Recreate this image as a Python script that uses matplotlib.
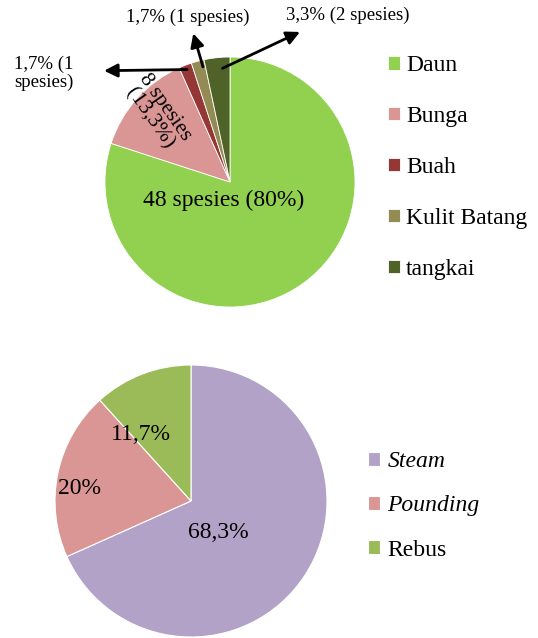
import matplotlib.pyplot as plt

plt.rcParams['font.family'] = ['Liberation Serif', 'DejaVu Serif']

# Top pie: plant parts used
parts = ['Daun', 'Bunga', 'Buah', 'Kulit Batang', 'tangkai']
species = [48, 8, 1, 1, 2]
part_colors = ['#92D050', '#D99694', '#953735', '#948A54', '#4F6228']

# Bottom pie: processing method
methods = ['Steam', 'Pounding', 'Rebus']
method_pct = [68.3, 20, 11.7]
method_colors = ['#B3A2C7', '#D99694', '#9BBB59']
method_labels = ['68,3%', '20%', '11,7%']

W, H = 538, 638
fig = plt.figure(figsize=(W / 100, H / 100), dpi=100)
fig.patch.set_facecolor('white')


def pie_axes(cx, cy, r):
    return fig.add_axes([(cx - r) / W, (H - cy - r) / H, 2 * r / W, 2 * r / H])


# ---- top pie ----
ax1 = pie_axes(230, 182, 125)
w1, _ = ax1.pie(species, colors=part_colors, startangle=90, counterclock=False,
                wedgeprops=dict(edgecolor='white', linewidth=0.6))
ax1.set_xlim(-1, 1)
ax1.set_ylim(-1, 1)

ax1.text(-0.05, -0.15, '48 spesies (80%)', ha='center', va='center', fontsize=17)
ax1.text(-0.58, 0.55, '8 spesies\n(13,3%)', ha='center', va='center', fontsize=15.5,
         rotation=-55, linespacing=1.0)

arrow = dict(arrowstyle='-|>', color='black', lw=2, mutation_scale=20)
# Buah
ax1.annotate('', xy=(-1.03, 0.89), xytext=(-0.32, 0.90), arrowprops=arrow,
             annotation_clip=False)
ax1.text(-1.49, 0.87, '1,7% (1\nspesies)', ha='center', va='center', fontsize=13.5,
         linespacing=1.1, clip_on=False)
# Kulit Batang
ax1.annotate('', xy=(-0.30, 1.21), xytext=(-0.21, 0.90), arrowprops=arrow,
             annotation_clip=False)
ax1.text(-0.34, 1.32, '1,7% (1 spesies)', ha='center', va='center', fontsize=13.5,
         clip_on=False)
# tangkai
ax1.annotate('', xy=(0.58, 1.21), xytext=(-0.08, 0.90), arrowprops=arrow,
             annotation_clip=False)
ax1.text(0.94, 1.33, '3,3% (2 spesies)', ha='center', va='center', fontsize=13.5,
         clip_on=False)

leg1 = fig.legend(w1, parts, loc='upper left', bbox_to_anchor=(388 / W, 1 - 55 / H),
                  frameon=False, fontsize=17, handlelength=0.52, handleheight=0.52,
                  handletextpad=0.25, labelspacing=1.27, borderaxespad=0,
                  borderpad=0)

# ---- bottom pie ----
ax2 = pie_axes(191, 501, 136)
w2, _ = ax2.pie(method_pct, colors=method_colors, startangle=90, counterclock=False,
                wedgeprops=dict(edgecolor='white', linewidth=0.8))
ax2.set_xlim(-1, 1)
ax2.set_ylim(-1, 1)

label_pos = [(0.20, -0.23), (-0.82, 0.09), (-0.37, 0.49)]
for (x, y), lab in zip(label_pos, method_labels):
    ax2.text(x, y, lab, ha='center', va='center', fontsize=17)

leg2 = fig.legend(w2, methods, loc='upper left', bbox_to_anchor=(368 / W, 1 - 451 / H),
                  frameon=False, fontsize=17, handlelength=0.52, handleheight=0.52,
                  handletextpad=0.3, labelspacing=0.99, borderaxespad=0,
                  borderpad=0)
for t in leg2.get_texts()[:2]:
    t.set_fontstyle('italic')

fig.savefig('out.png', dpi=100, facecolor='white')
